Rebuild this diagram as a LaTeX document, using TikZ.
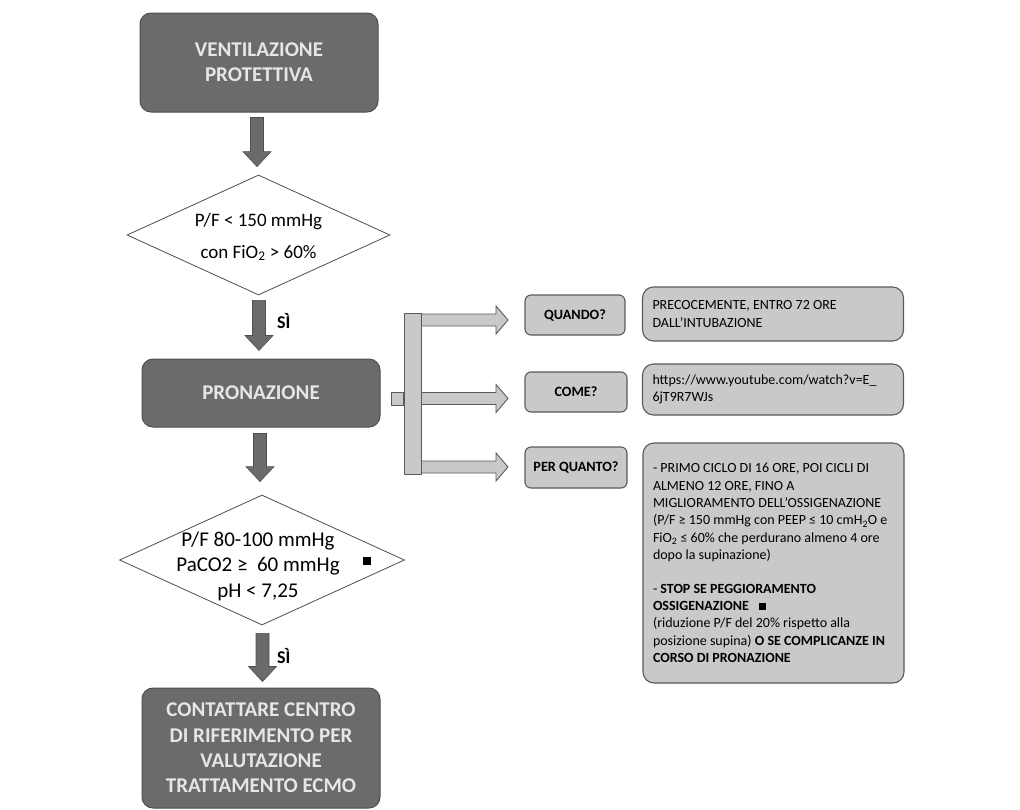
\documentclass[tikz,border=0pt]{standalone}
\usepackage{fontspec}
\setmainfont{Carlito}
\usetikzlibrary{shapes.geometric,calc}
\definecolor{darkfill}{HTML}{6B6B6B}
\definecolor{darkline}{HTML}{4E4E4E}
\definecolor{lightfill}{HTML}{C9C9C9}
\definecolor{lightline}{HTML}{5A5A5A}
\definecolor{boxtext}{HTML}{E6E6E6}
\begin{document}
\begin{tikzpicture}[x=1pt,y=-1pt,
  darkbox/.style={rectangle, rounded corners=11pt, fill=darkfill, draw=darkline, line width=1pt,
    text=boxtext, align=center, inner sep=0pt,
    font=\fontsize{21}{25.3}\selectfont\bfseries},
  decision/.style={diamond, draw=darkline, line width=0.8pt, fill=white, inner sep=0pt},
  dtext/.style={align=center, inner sep=0pt},
  askbox/.style={rectangle, rounded corners=6pt, fill=lightfill, draw=lightline, line width=1.1pt,
    inner sep=0pt, align=center, font=\fontsize{14.2}{16}\selectfont\bfseries},
  infobox/.style={rectangle, rounded corners=11pt, fill=lightfill, draw=lightline, line width=1.1pt,
    inner xsep=10pt, inner ysep=0pt, align=flush left, text width=241pt,
    font=\fontsize{14}{17.4}\selectfont},
  yeslabel/.style={font=\fontsize{18}{20}\selectfont\bfseries, anchor=west, inner sep=0pt},
  varrowfill/.style={fill=darkfill, draw=darkline, line width=0.6pt},
  harrowfill/.style={fill=lightfill, draw=lightline, line width=0.9pt},
  varrow/.style={to path={let \p1=(\tikztostart), \p2=(\tikztotarget) in
    (\x1-6.5pt,\y1) -- (\x1-6.5pt,\y2+15pt) -- (\x1-14pt,\y2+15pt) -- (\x1,\y2)
    -- (\x1+14pt,\y2+15pt) -- (\x1+6.5pt,\y2+15pt) -- (\x1+6.5pt,\y1) -- cycle}},
  harrow/.style={to path={let \p1=(\tikztostart), \p2=(\tikztotarget) in
    (\x1,\y1+6pt) -- (\x2-12pt,\y1+6pt) -- (\x2-12pt,\y1+14pt) -- (\x2,\y1)
    -- (\x2-12pt,\y1-14pt) -- (\x2-12pt,\y1-6pt) -- (\x1,\y1-6pt) -- cycle}},
  stubpath/.style={to path={let \p1=(\tikztostart), \p2=(\tikztotarget) in
    (\x1+11pt,\y1+6.5pt) rectangle (\x2,\y1-6.5pt)}}
]
\useasboundingbox (0,0) rectangle (1020,809);

% main column
\node[darkbox, minimum width=238pt, minimum height=99pt] (vent) at (259,62.5) {VENTILAZIONE\\PROTETTIVA};
\node[decision, minimum width=263pt, minimum height=120pt] (d1) at (258.5,235) {};
\node[dtext, font=\fontsize{19}{32}\selectfont] (d1t) at (258.5,237)
  {P/F < 150 mmHg\\con FiO\textsubscript{2} > 60\%};
\node[darkbox, minimum width=238pt, minimum height=68pt] (pron) at (261,393) {PRONAZIONE};
\node[decision, minimum width=285pt, minimum height=130pt] (d2) at (262,560) {};
\node[dtext, font=\fontsize{21}{25.5}\selectfont] (d2t) at (258,566)
  {P/F 80-100 mmHg\\PaCO2 ≥ \ 60 mmHg\\pH < 7,25};
\node[fill=black, inner sep=0pt, minimum size=8pt] (mark) at (366.5,561) {};
\node[darkbox, minimum width=238pt, minimum height=120pt] (ecmo) at (261,748)
  {CONTATTARE CENTRO\\DI RIFERIMENTO PER\\VALUTAZIONE\\TRATTAMENTO ECMO};

\draw[varrowfill, varrow] ($(vent.south)+(-2,5)$) to ($(d1.north)+(0,-8)$);
\draw[varrowfill, varrow] ($(d1.south)+(0.5,5)$) to ($(pron.north)+(0,-8)$);
\draw[varrowfill, varrow] ($(pron.south)+(-1,6)$) to ($(d2.north)+(0,-13)$);
\draw[varrowfill, varrow] ($(d2.south)+(0.5,8)$) to ($(ecmo.north)+(0,-6)$);
\node[yeslabel] (si1) at (277,321) {SÌ};
\node[yeslabel] (si2) at (277,656) {SÌ};

% branch
\node[rectangle, fill=lightfill, draw=lightline, line width=0.9pt, minimum width=17pt, minimum height=161pt, inner sep=0pt] (bar) at (412.5,393.5) {};
\coordinate (t1) at (508,320);
\coordinate (t2) at (508,398.5);
\coordinate (t3) at (508,467);
\draw[harrowfill, stubpath] (pron.east |- t2) to (bar.west |- t2);
\draw[harrowfill, harrow] (bar.east |- t1) to (t1);
\draw[harrowfill, harrow] (bar.east |- t2) to (t2);
\draw[harrowfill, harrow] (bar.east |- t3) to (t3);

\node[askbox, minimum width=100pt, minimum height=40pt] (q) at (575,315) {QUANDO?};
\node[askbox, minimum width=102pt, minimum height=40pt] (c) at (576,392) {COME?};
\node[askbox, minimum width=102pt, minimum height=41pt] (p) at (576,467.5) {PER QUANTO?};

\node[infobox, minimum height=54pt] (qa) at (773,314)
  {PRECOCEMENTE, ENTRO 72 ORE\\DALL’INTUBAZIONE};
\node[infobox, minimum height=51pt] (ca) at (773,389.5)
  {https://www.youtube.com/watch?v=E\_\\6jT9R7WJs};
\node[infobox, minimum height=240pt] (pa) at (773.5,563)
  {- PRIMO CICLO DI 16 ORE, POI CICLI DI\\
   ALMENO 12 ORE, FINO A\\
   MIGLIORAMENTO DELL’OSSIGENAZIONE\\
   \mbox{(P/F ≥ 150 mmHg con PEEP ≤ 10 cmH\textsubscript{2}O e}\\
   FiO\textsubscript{2} ≤ 60\% che perdurano almeno 4 ore\\
   dopo la supinazione)\\[16pt]
   - \textbf{STOP SE PEGGIORAMENTO}\\
   \textbf{OSSIGENAZIONE}\hspace{10pt}\rule{7pt}{7pt}\\
   (riduzione P/F del 20\% rispetto alla\\
   posizione supina) \textbf{O SE COMPLICANZE IN}\\
   \textbf{CORSO DI PRONAZIONE}};
\end{tikzpicture}
\end{document}
